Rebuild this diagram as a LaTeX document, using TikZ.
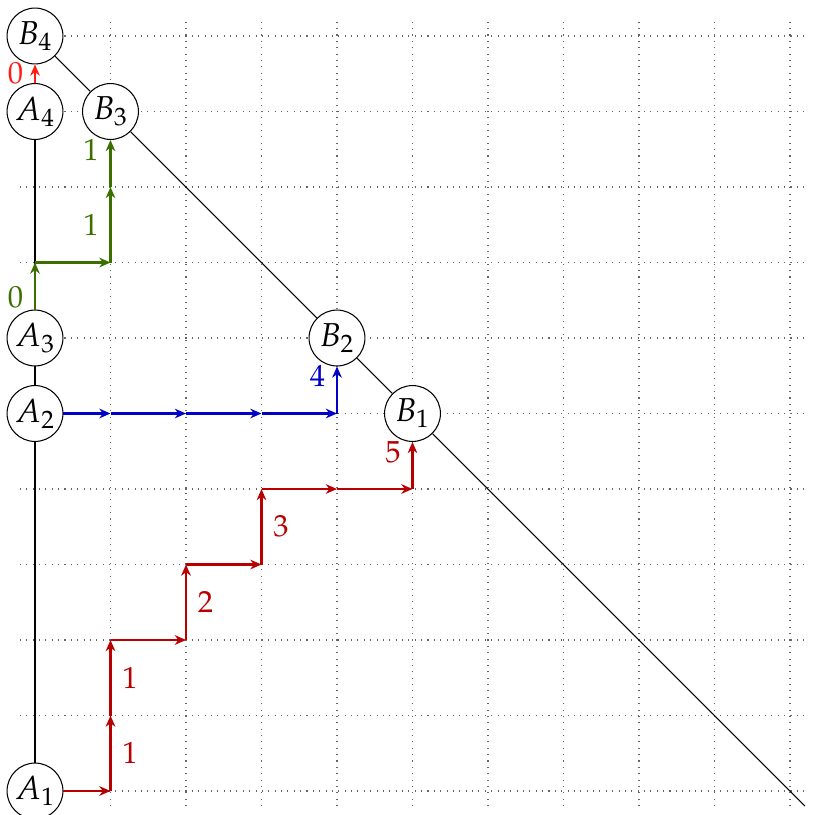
\documentclass[tikz,border=0pt]{standalone}
\usepackage{mathpazo}
\usetikzlibrary{arrows.meta}
\definecolor{pathred}{RGB}{185,0,0}
\definecolor{pathblue}{RGB}{0,0,200}
\definecolor{pathgreen}{RGB}{60,110,0}
\definecolor{brightred}{RGB}{255,30,20}
\begin{document}
\begin{tikzpicture}[
  pt/.style={circle,draw,fill=white,minimum size=0.74cm,inner sep=0pt,font=\fontsize{12.5}{14}\selectfont},
  gridline/.style={dotted,gray!80!black,line width=0.4pt},
  seg/.style={line width=0.9pt,-{Stealth[length=4.2pt,width=3.6pt,inset=1.3pt]}},
  lab/.style={font=\fontsize{11.5}{13}\selectfont,inner sep=2pt}
]
\useasboundingbox (-0.4636,-0.305) rectangle (10.49,10.477);
\draw[gridline] (-0.2,-0.2) grid (10.2,10.2);

% nodes
\node[pt] (A1) at (0,0) {$A_1$};
\node[pt] (A2) at (0,5) {$A_2$};
\node[pt] (A3) at (0,6) {$A_3$};
\node[pt] (A4) at (0,9) {$A_4$};
\node[pt] (B4) at (0,10) {$B_4$};
\node[pt] (B3) at (1,9) {$B_3$};
\node[pt] (B2) at (4,6) {$B_2$};
\node[pt] (B1) at (5,5) {$B_1$};
\coordinate (E) at (10.2,-0.2);

% black lines
\draw[line width=0.4pt] (A1) -- (A2);
\draw[line width=0.4pt] (A2) -- (A3);
\draw[line width=0.4pt] (A3) -- (A4);
\draw[line width=0.4pt] (B4) -- (B3);
\draw[line width=0.4pt] (B3) -- (B2);
\draw[line width=0.4pt] (B2) -- (B1);
\draw[line width=0.4pt] (B1) -- (E);

% red path
\coordinate (r1) at (1,0);
\coordinate (r2) at (1,1);
\coordinate (r3) at (1,2);
\coordinate (r4) at (2,2);
\coordinate (r5) at (2,3);
\coordinate (r6) at (3,3);
\coordinate (r7) at (3,4);
\coordinate (r8) at (4,4);
\coordinate (r9) at (5,4);
\begin{scope}[pathred]
\draw[seg] (A1) -- (r1);
\draw[seg] (r1) -- node[lab,right=2pt] {$1$} (r2);
\draw[seg] (r2) -- node[lab,right=2pt] {$1$} (r3);
\draw[seg] (r3) -- (r4);
\draw[seg] (r4) -- node[lab,right=2pt] {$2$} (r5);
\draw[seg] (r5) -- (r6);
\draw[seg] (r6) -- node[lab,right=2pt] {$3$} (r7);
\draw[seg] (r7) -- (r8);
\draw[seg] (r8) -- (r9);
\draw[seg] (r9) -- node[lab,left=2pt,pos=0.79] {$5$} (B1);
\end{scope}

% blue path
\coordinate (b1) at (1,5);
\coordinate (b2) at (2,5);
\coordinate (b3) at (3,5);
\coordinate (b4) at (4,5);
\begin{scope}[pathblue]
\draw[seg] (A2) -- (b1);
\draw[seg] (b1) -- (b2);
\draw[seg] (b2) -- (b3);
\draw[seg] (b3) -- (b4);
\draw[seg] (b4) -- node[lab,left=2pt,pos=0.79] {$4$} (B2);
\end{scope}

% green path
\coordinate (g1) at (0,7);
\coordinate (g2) at (1,7);
\coordinate (g3) at (1,8);
\begin{scope}[pathgreen]
\draw[seg] (A3) -- node[lab,left=2pt,pos=0.25] {$0$} (g1);
\draw[seg] (g1) -- (g2);
\draw[seg] (g2) -- node[lab,left=2pt] {$1$} (g3);
\draw[seg] (g3) -- node[lab,left=2pt,pos=0.79] {$1$} (B3);
\end{scope}

% bright red
\draw[seg,brightred] (A4) -- node[lab,left=2pt] {$0$} (B4);
\end{tikzpicture}
\end{document}
